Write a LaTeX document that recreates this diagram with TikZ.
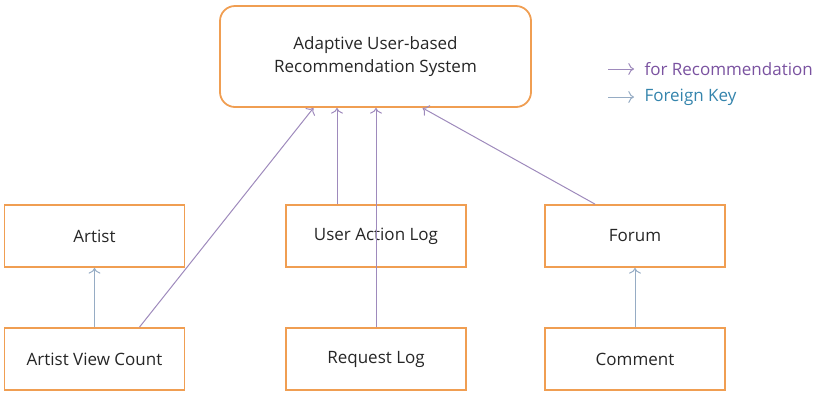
\documentclass[tikz,border=0pt]{standalone}
\usepackage{fontspec}
\setmainfont{Open Sans}
\usetikzlibrary{shapes,arrows,arrows.meta,positioning}

\definecolor{boxorange}{RGB}{240,158,82}
\definecolor{recpurple}{RGB}{158,138,188}
\definecolor{fkblue}{RGB}{150,172,196}
\definecolor{rectext}{RGB}{122,82,160}
\definecolor{fktext}{RGB}{52,132,172}

\begin{document}
\begin{tikzpicture}[x=1pt,y=-1pt, >={To[scale=1.5]},
  every node/.style={font=\fontsize{17}{23}\selectfont, text=black!85},
  sysbox/.style={draw=boxorange, line width=1.8pt, rounded corners=15pt,
    minimum width=311pt, minimum height=101pt, align=center},
  tablebox/.style={draw=boxorange, line width=1.8pt,
    minimum width=180pt, minimum height=62pt},
  recarrow/.style={->, draw=recpurple, line width=1pt},
  fkarrow/.style={->, draw=fkblue, line width=1pt}]

\useasboundingbox (0,0) rectangle (819,392);

% main system
\node[sysbox] (system) at (375.5,56.5) {Adaptive User-based\\Recommendation System};

% tables
\node[tablebox] (artist)  at (94.5,236) {Artist};
\node[tablebox] (avc)     at (94.5,359) {Artist View Count};
\node[tablebox] (ual)     at (376,236) {User Action Log};
\node[tablebox] (reqlog)  at (376,359) {Request Log};
\node[tablebox] (forum)   at (635,236) {Forum};
\node[tablebox] (comment) at (635,359) {Comment};

% for recommendation
\draw[recarrow] ([xshift=45pt]avc.north) -- ([xshift=-62pt]system.south);
\draw[recarrow] ([xshift=-39pt]ual.north) -- ([xshift=-39pt]ual.north |- system.south);
\draw[recarrow] (reqlog.north) -- (reqlog.north |- system.south);
\draw[recarrow] ([xshift=-40pt]forum.north) -- ([xshift=47pt]system.south);

% foreign keys
\draw[fkarrow] (avc.north) -- (artist.south);
\draw[fkarrow] (comment.north) -- (forum.south);

% legend
\node[anchor=west, text=rectext] (legrec) at (641,69) {for Recommendation};
\node[anchor=west, text=fktext] (legfk) at (641,97) {Foreign Key};
\coordinate (legrecstart) at (608,69);
\coordinate (legfkstart) at (608,97);
\draw[recarrow, shorten >=7pt] (legrecstart) -- (legrec.west);
\draw[fkarrow, shorten >=7pt] (legfkstart) -- (legfk.west);

\end{tikzpicture}
\end{document}
